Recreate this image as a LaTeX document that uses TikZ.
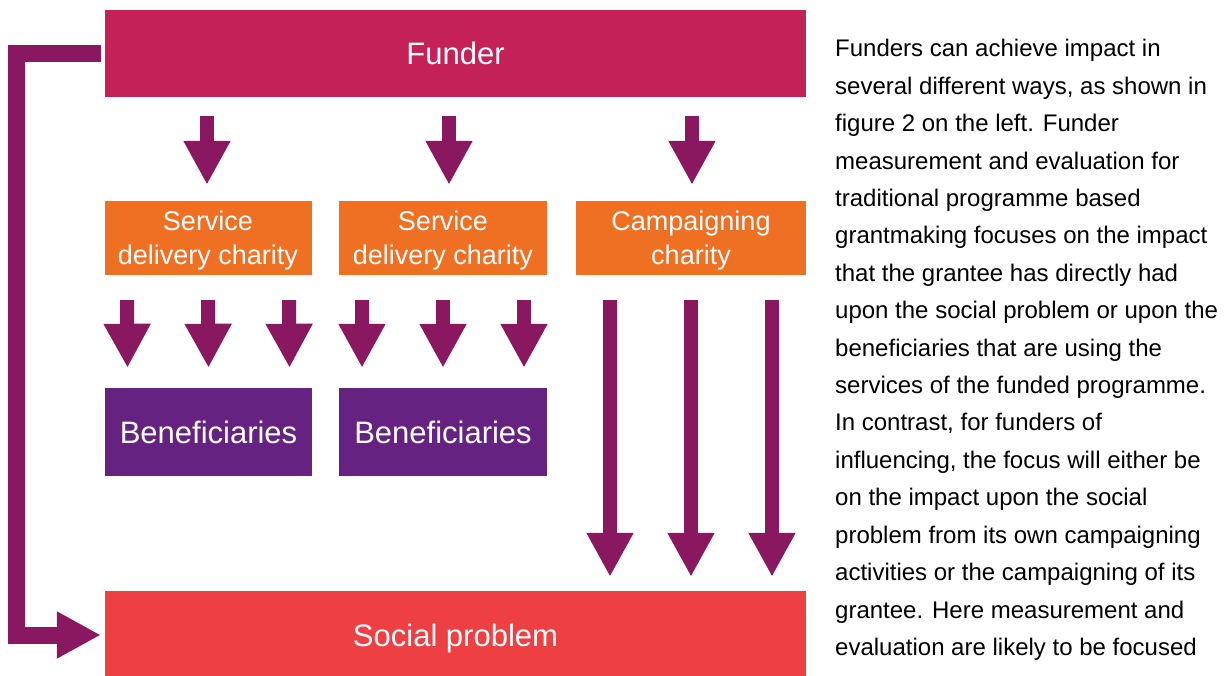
\documentclass[tikz,border=0pt]{standalone}
\usepackage{fontspec}
\setmainfont{Liberation Sans}
\usetikzlibrary{arrows.meta}
\definecolor{funderred}{HTML}{C42159}
\definecolor{charityorange}{HTML}{F07023}
\definecolor{benpurple}{HTML}{662280}
\definecolor{socialred}{HTML}{EE4043}
\definecolor{arrowplum}{HTML}{8A1861}
\tikzset{>={Triangle[width=44pt,length=44pt]}}
\tikzset{
  box/.style={fill=#1, text=white, inner sep=0pt, align=center, text depth=0pt},
  flow/.style={draw=arrowplum, line width=14pt, ->},
}

\begin{document}
\begin{tikzpicture}[x=1pt,y=-1pt]
\useasboundingbox (0,0) rectangle (1227,676);
% boxes
\node[box=funderred, minimum width=701pt, minimum height=87pt,
  font=\fontsize{31}{37}\selectfont] (funder) at (455.5,53.5) {Funder};
\node[box=charityorange, minimum width=207pt, minimum height=74pt,
  font=\fontsize{27}{34}\selectfont] (sdc1) at (208,238) {Service\\delivery charity};
\node[box=charityorange, minimum width=208pt, minimum height=74pt,
  font=\fontsize{27}{34}\selectfont] (sdc2) at (443,238) {Service\\delivery charity};
\node[box=charityorange, minimum width=230pt, minimum height=74pt,
  font=\fontsize{27}{34}\selectfont] (camp) at (691,238) {Campaigning\\charity};
\node[box=benpurple, minimum width=207pt, minimum height=88pt,
  font=\fontsize{31}{37}\selectfont] (ben1) at (208.5,432) {Beneficiaries};
\node[box=benpurple, minimum width=208pt, minimum height=88pt,
  font=\fontsize{31}{37}\selectfont] (ben2) at (443,432) {Beneficiaries};
\node[box=socialred, minimum width=701pt, minimum height=88pt,
  font=\fontsize{31}{37}\selectfont] (social) at (455.5,635) {Social problem};

% funder down to the charities
\draw[flow] ([xshift=-1pt,yshift=-19pt]funder.south -| sdc1) -- ([xshift=-1pt,yshift=16pt]sdc1.north);
\draw[flow] ([xshift=6pt,yshift=-19pt]funder.south -| sdc2) -- ([xshift=6pt,yshift=16pt]sdc2.north);
\draw[flow] ([xshift=1pt,yshift=-19pt]funder.south -| camp) -- ([xshift=1pt,yshift=16pt]camp.north);

% charities to beneficiaries
\foreach \b/\t in {sdc1/ben1, sdc2/ben2}
  \foreach \dx in {-81,0,81}
    \draw[flow] ([xshift=\dx pt,yshift=-25pt]\b.south) -- ([xshift=\dx pt,yshift=20pt]\t.north);

% campaigning straight to the problem
\foreach \dx in {-81,0,81}
  \draw[flow] ([xshift=\dx pt,yshift=-25pt]camp.south) -- ([xshift=\dx pt,yshift=14pt]camp.south |- social.north);

% funder's own route
\draw[flow, line width=17pt] ([xshift=-4pt]funder.west) -- ++(-84,0) |- ([xshift=-4pt]social.west);

% side text
\foreach \msg [count=\i from 0] in {{Funders can achieve impact in},
  {several different ways, as shown in}, {figure 2 on the left. Funder},
  {measurement and evaluation for}, {traditional programme based},
  {grantmaking focuses on the impact}, {that the grantee has directly had},
  {upon the social problem or upon the}, {beneficiaries that are using the},
  {services of the funded programme.}, {In contrast, for funders of},
  {influencing, the focus will either be}, {on the impact upon the social},
  {problem from its own campaigning}, {activities or the campaigning of its},
  {grantee. Here measurement and}, {evaluation are likely to be focused}}
  \node[anchor=base west, inner sep=0pt, font=\fontsize{24}{29}\selectfont]
    (txt\i) at (835,{57+37.4*\i}) {\msg};
\end{tikzpicture}
\end{document}
